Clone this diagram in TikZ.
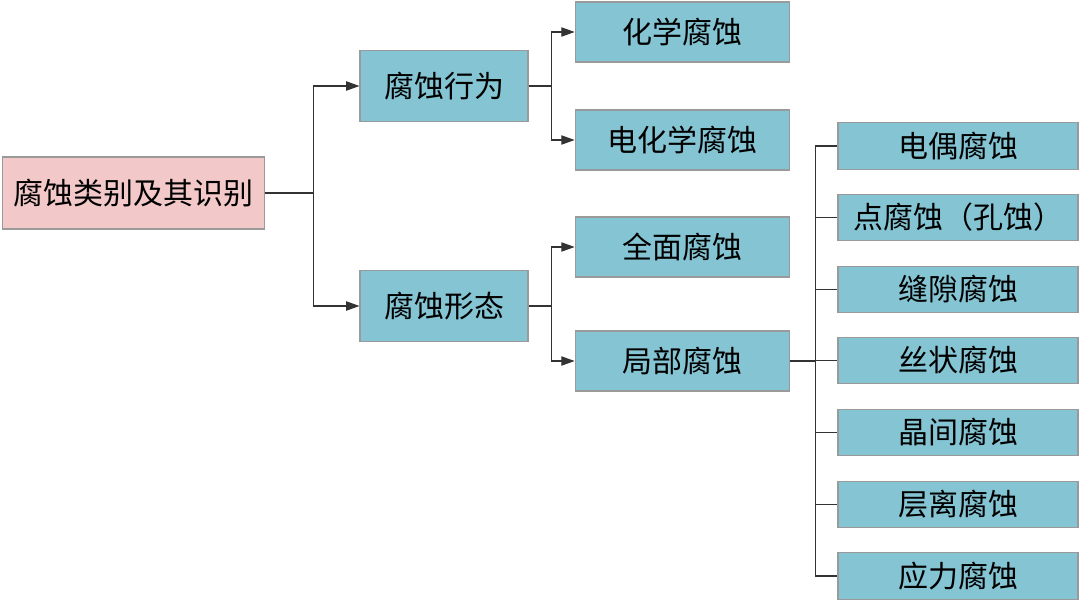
\documentclass[tikz,border=0pt]{standalone}
\usepackage{fontspec}
\setmainfont{Noto Sans CJK SC}
\usetikzlibrary{arrows.meta}
\definecolor{boxblue}{HTML}{84C4D3}
\definecolor{boxpink}{HTML}{F2C8C9}
\definecolor{boxedge}{HTML}{9A9A9A}

\begin{document}
\begin{tikzpicture}
  [x=0.75pt,y=-0.75pt,
   every node/.style={draw=boxedge,line width=0.8pt,inner sep=0pt,font=\fontsize{22.5}{26}\selectfont},
   cat/.style={fill=boxblue,minimum width=126pt,minimum height=53pt},
   kind/.style={fill=boxblue,minimum width=161pt,minimum height=45pt},
   form/.style={fill=boxblue,minimum width=180pt,minimum height=35pt}]

  \useasboundingbox (0,0) rectangle (1080,603);

  \node[fill=boxpink,minimum width=197pt,minimum height=54pt] (root) at (133.5,193) {腐蚀类别及其识别};

  \node[cat] (beh)  at (444,86)  {腐蚀行为};
  \node[cat] (morph) at (444,306) {腐蚀形态};

  \node[kind] (chem)   at (682.5,32)  {化学腐蚀};
  \node[kind] (echem)  at (682.5,140) {电化学腐蚀};
  \node[kind] (gen)    at (682.5,247) {全面腐蚀};
  \node[kind] (local)  at (682.5,361) {局部腐蚀};

  \node[form] (galv)   at (958,146) {电偶腐蚀};
  \node[form] (pit)    at (958,217.5) {点腐蚀（孔蚀）};
  \node[form] (crev)   at (958,289.5) {缝隙腐蚀};
  \node[form] (filif)  at (958,360.5) {丝状腐蚀};
  \node[form] (inter)  at (958,432.5) {晶间腐蚀};
  \node[form] (exfol)  at (958,504.5) {层离腐蚀};
  \node[form] (stress) at (958,576) {应力腐蚀};

  \begin{scope}[draw=black!80,line width=0.8pt,>={Triangle[length=10pt,width=7pt]}]
    \draw[->] (root.east) -- ++(48,0) |- (beh.west);
    \draw[->] (root.east) -- ++(48,0) |- (morph.west);
    \draw[->] (beh.east) -- ++(23,0) |- (chem.west);
    \draw[->] (beh.east) -- ++(23,0) |- (echem.west);
    \draw[->] (morph.east) -- ++(23,0) |- (gen.west);
    \draw[->] (morph.east) -- ++(23,0) |- (local.west);
    \foreach \leaf in {galv,pit,crev,filif,inter,exfol,stress}
      \draw (local.east) -- ++(25,0) |- (\leaf.west);
  \end{scope}
\end{tikzpicture}
\end{document}
